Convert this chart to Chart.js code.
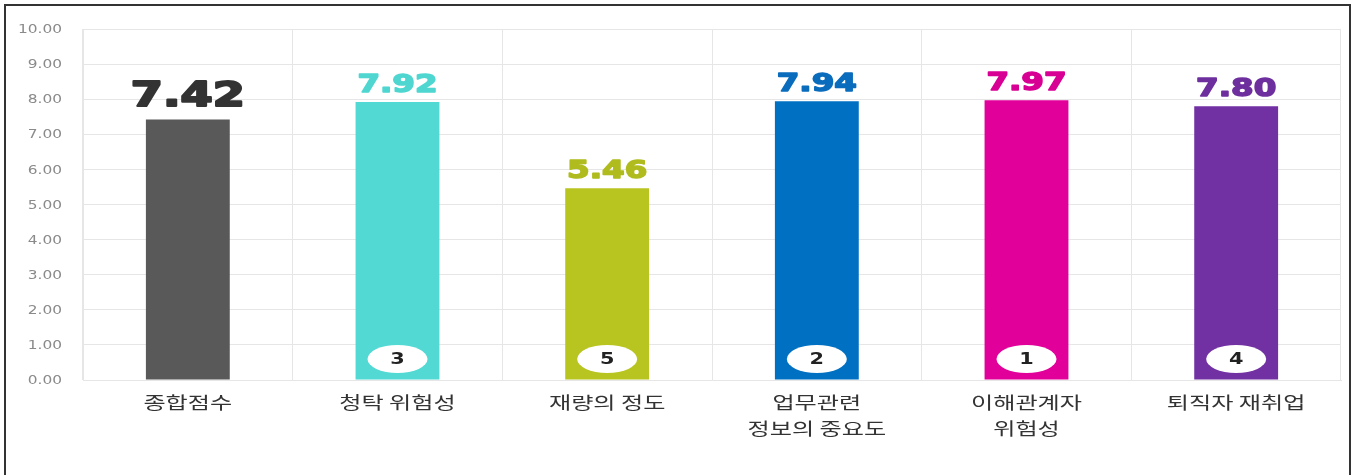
<!DOCTYPE html>
<html>
<head>
<meta charset="utf-8">
<script src="https://cdn.jsdelivr.net/npm/chart.js@4"></script>
<style>
  body { margin: 0; background: #fff; }
  #wrap { position: relative; width: 1354px; height: 475px; overflow: hidden; }
  #frame { position: absolute; left: 4px; top: 4px; width: 1343px; height: 480px;
           border: 2px solid #333; border-bottom: none; }
  canvas { position: absolute; left: 0; top: 0; }
</style>
</head>
<body>
<div id="wrap">
  <div id="frame"></div>
  <canvas id="scoreChart" width="1354" height="475"></canvas>
</div>
<script>
const categories = [
    ["종합점수"],
    ["청탁 위험성"],
    ["재량의 정도"],
    ["업무관련", "정보의 중요도"],
    ["이해관계자", "위험성"],
    ["퇴직자 재취업"]
];
const scores = [7.42, 7.92, 5.46, 7.94, 7.97, 7.80];
const ranks = ["", "3", "5", "2", "1", "4"];
const barColors = ["#595959", "#52d9d4", "#b8c41f", "#0070c2", "#e1009a", "#7231a3"];
const labelColors = ["#333333", "#4fd6d0", "#b0bc1e", "#0a6cbc", "#d80094", "#6e2f9e"];
const yTicks = [0, 1, 2, 3, 4, 5, 6, 7, 8, 9, 10];

// the picture is stretched sideways, so text is drawn with a horizontal scale
const stretchText = (ctx, text, x, y, sx) => {
    ctx.save();
    ctx.translate(x, y);
    ctx.scale(sx, 1);
    ctx.fillText(text, 0, 0);
    ctx.restore();
};

const chartText = {
    id: "chartText",
    afterDatasetsDraw(chart) {
        const ctx = chart.ctx;
        const meta = chart.getDatasetMeta(0);
        const xScale = chart.scales.x;
        const yScale = chart.scales.y;
        const y0 = yScale.getPixelForValue(0);

        // y tick labels
        ctx.save();
        ctx.font = "12px 'DejaVu Sans'";
        ctx.fillStyle = "#8a8a8a";
        ctx.textAlign = "right";
        ctx.textBaseline = "middle";
        yTicks.forEach(v => {
            stretchText(ctx, v.toFixed(2), 62, yScale.getPixelForValue(v) + 1, 1.28);
        });
        ctx.restore();

        // category labels
        ctx.save();
        ctx.font = "17px 'Noto Sans CJK KR'";
        ctx.fillStyle = "#333";
        ctx.textAlign = "center";
        ctx.textBaseline = "middle";
        categories.forEach((lines, i) => {
            const x = xScale.getPixelForValue(i);
            lines.forEach((line, j) => {
                stretchText(ctx, line, x, 403 + j * 26, 1.42);
            });
        });
        ctx.restore();

        meta.data.forEach((bar, i) => {
            const big = i === 0;
            // value above the bar
            ctx.save();
            ctx.font = "bold " + (big ? 33 : 25) + "px 'DejaVu Sans'";
            ctx.fillStyle = labelColors[i];
            ctx.strokeStyle = labelColors[i];
            ctx.lineWidth = big ? 2 : 1.5;
            ctx.lineJoin = "round";
            ctx.textAlign = "center";
            ctx.textBaseline = "alphabetic";
            ctx.translate(bar.x, bar.y - (big ? 14 : 10));
            ctx.scale(big ? 1.4 : 1.3, 1);
            ctx.fillText(scores[i].toFixed(2), 0, 0);
            ctx.strokeText(scores[i].toFixed(2), 0, 0);
            ctx.restore();

            // rank badge
            if (ranks[i]) {
                const cy = y0 - 21;
                ctx.save();
                ctx.beginPath();
                ctx.ellipse(bar.x, cy, 30, 14, 0, 0, Math.PI * 2);
                ctx.fillStyle = "#ffffff";
                ctx.fill();
                ctx.font = "bold 16px 'DejaVu Sans'";
                ctx.fillStyle = "#222";
                ctx.textAlign = "center";
                ctx.textBaseline = "middle";
                stretchText(ctx, ranks[i], bar.x, cy + 1, 1.3);
                ctx.restore();
            }
        });
    }
};

const ctx = document.getElementById("scoreChart").getContext("2d");
new Chart(ctx, {
    type: "bar",
    data: {
        labels: categories,
        datasets: [{
            data: scores,
            backgroundColor: barColors,
            categoryPercentage: 1,
            barPercentage: 0.4
        }]
    },
    options: {
        responsive: false,
        animation: false,
        layout: { padding: { left: 8, top: 29, right: 13, bottom: 0 } },
        plugins: {
            legend: { display: false },
            tooltip: { enabled: false }
        },
        scales: {
            x: {
                grid: { color: "#e6e6e6", drawTicks: false },
                border: { color: "#e6e6e6" },
                afterFit: (scale) => { scale.height = 95; },
                ticks: { display: false }
            },
            y: {
                min: 0,
                max: 10,
                afterFit: (scale) => { scale.width = 75; },
                afterBuildTicks: (scale) => { scale.ticks = yTicks.map(v => ({ value: v })); },
                grid: { color: "#e6e6e6", drawTicks: false },
                border: { color: "#e6e6e6" },
                ticks: { display: false }
            }
        }
    },
    plugins: [chartText]
});
</script>
</body>
</html>
